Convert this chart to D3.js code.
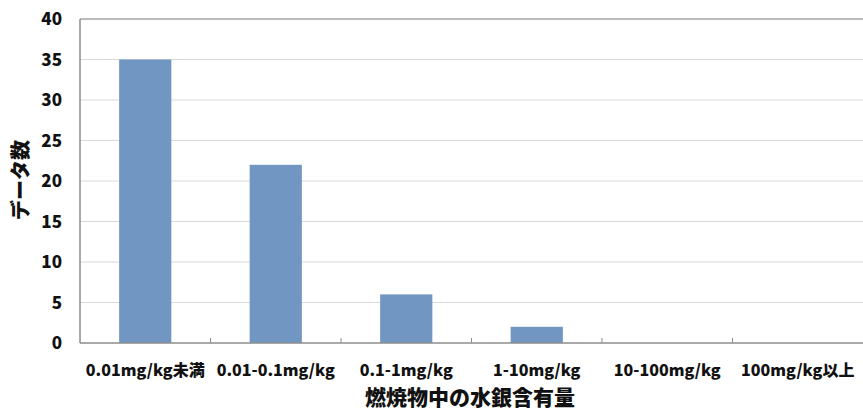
<!DOCTYPE html>
<html>
<head>
<meta charset="utf-8">
<script src="https://cdn.jsdelivr.net/npm/d3@7"></script>
<style>
  body { margin: 0; background: #fff; }
  text { font-family: "Noto Sans CJK JP", "Open Sans", sans-serif; font-weight: 900; fill: #111; }
</style>
</head>
<body>
<div id="chart"></div>
<script>
// categories and counts
const categories = ["0.01mg/kg未満", "0.01-0.1mg/kg", "0.1-1mg/kg", "1-10mg/kg", "10-100mg/kg", "100mg/kg以上"];
const counts = [35, 22, 6, 2, 0, 0];
const yTicks = [0, 5, 10, 15, 20, 25, 30, 35, 40];
const xTitle = "燃焼物中の水銀含有量";
const yTitle = "データ数";

const width = 863, height = 414;
const margin = { top: 19, right: 0, bottom: 71, left: 80 };

const svg = d3.select("#chart").append("svg")
    .attr("width", width)
    .attr("height", height);

const x = d3.scaleBand()
    .domain(categories)
    .range([margin.left, width - margin.right])
    .padding(0);

const y = d3.scaleLinear()
    .domain([0, 40])
    .range([height - margin.bottom, margin.top]);

// gridlines
svg.append("g")
    .selectAll("line")
    .data(yTicks.filter(d => d > 0))
    .enter().append("line")
    .attr("x1", margin.left)
    .attr("x2", width - margin.right)
    .attr("y1", d => y(d))
    .attr("y2", d => y(d))
    .attr("stroke", d => d == 40 ? "#a6a6a6" : "#d9d9d9")
    .attr("stroke-width", d => d == 40 ? 1.5 : 1);

// bars
const barW = x.bandwidth() * 0.4;
svg.append("g")
    .selectAll("rect")
    .data(counts)
    .enter().append("rect")
    .attr("x", (d, i) => x(categories[i]) + (x.bandwidth() - barW) / 2)
    .attr("y", d => y(d))
    .attr("width", barW)
    .attr("height", d => y(0) - y(d))
    .attr("fill", "#7096c1");

// axis lines
svg.append("line")
    .attr("x1", margin.left).attr("x2", margin.left)
    .attr("y1", y(40)).attr("y2", y(0))
    .attr("stroke", "#8c8c8c").attr("stroke-width", 1.5);
svg.append("line")
    .attr("x1", margin.left).attr("x2", width - margin.right)
    .attr("y1", y(0)).attr("y2", y(0))
    .attr("stroke", "#8c8c8c").attr("stroke-width", 1.5);

// x ticks between categories (pointing up)
svg.append("g")
    .selectAll("line")
    .data(categories.slice(1))
    .enter().append("line")
    .attr("x1", d => x(d)).attr("x2", d => x(d))
    .attr("y1", y(0)).attr("y2", y(0) - 5)
    .attr("stroke", "#8c8c8c").attr("stroke-width", 1);

// y tick labels
svg.append("g")
    .selectAll("text")
    .data(yTicks)
    .enter().append("text")
    .attr("x", 62)
    .attr("y", d => y(d))
    .attr("dy", "0.36em")
    .attr("text-anchor", "end")
    .style("font-size", "17px")
    .text(d => d);

// x tick labels
svg.append("g")
    .selectAll("text")
    .data(categories)
    .enter().append("text")
    .attr("x", d => x(d) + x.bandwidth() / 2)
    .attr("y", 376)
    .attr("text-anchor", "middle")
    .style("font-size", "16px")
    .text(d => d);

// axis titles
svg.append("text")
    .attr("x", 470)
    .attr("y", 405)
    .attr("text-anchor", "middle")
    .style("font-size", "21px")
    .text(xTitle);

svg.append("text")
    .attr("transform", "translate(28," + 180 + ") rotate(-90)")
    .attr("text-anchor", "middle")
    .style("font-size", "20px")
    .text(yTitle);
</script>
</body>
</html>
